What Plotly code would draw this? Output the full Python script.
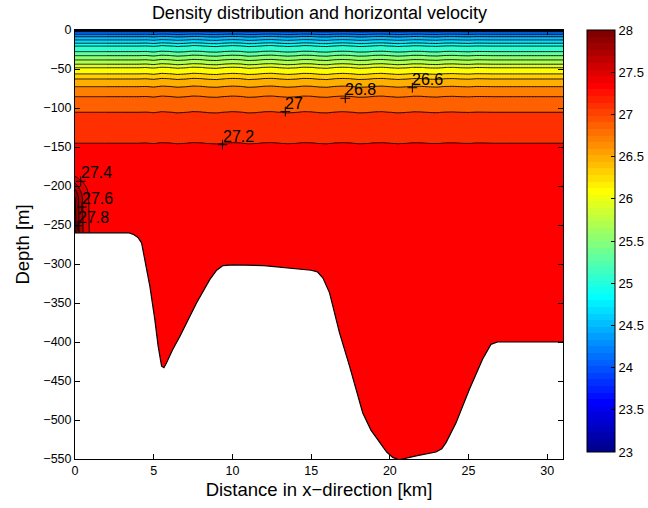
import numpy as np
import plotly.graph_objects as go

# ---------------- data ----------------
# background density profile (depth in m, sigma in kg/m^3)
prof_depth = [0.0, 1.0, 2.2, 5.5, 8.6, 12.8, 17.0, 20.5, 27.8, 32.9, 38.4, 43.9, 48.3,
              56.3, 62.7, 72.6, 85.4, 105.4, 145.0, 200.0, 560.0]
prof_rho = [23.15, 23.6, 24.0, 24.2, 24.4, 24.6, 24.8, 25.0, 25.2, 25.4, 25.6, 25.8, 26.0,
            26.2, 26.4, 26.6, 26.8, 27.0, 27.2, 27.3, 27.36]

# small wobble of the isopycnals (upward displacement, m) along x (km)
wave_x = [0, 4.0, 4.5, 5.0, 5.5, 6.0, 6.5, 7.0, 7.5, 8.0, 8.5, 9.0, 9.5, 10.0, 10.5, 11.0,
          11.5, 12.0, 12.5, 13.0, 13.5, 14.0, 14.5, 15.0, 15.5, 16.0, 16.5, 17.0, 17.5,
          18.0, 18.5, 19.0, 19.5, 20.0, 20.5, 21.0, 21.5, 22.0, 22.5, 23.0, 23.5, 24.0,
          24.5, 25.0, 25.5, 26.0, 26.5, 27.0, 31.0]
wave_dz = [0, 0, 0.3, -0.6, 0.8, 0.3, -0.8, -0.2, 0.9, 0.5, -0.6, -0.9, 0.2, 0.8, 0.4, -0.9,
           -0.5, 0.6, 0.9, 0.0, -0.8, -0.3, 0.8, 0.6, -0.5, -0.9, 0.3, 0.8, 0.3,
           -0.8, -0.6, 0.5, 0.8, 0.0, -0.8, -0.3, 0.6, 0.5, -0.3, -0.6, 0.3, 0.5,
           0.0, -0.3, 0.3, 0.2, 0.0, 0.0, 0.0]

# dense water pooled against the left wall
wall_x = [0.0, 0.3, 0.6, 0.9, 1.3, 31.0]
wall_fx = [1.0, 0.6, 0.3, 0.12, 0.0, 0.0]
wall_depth = [0.0, 180.0, 192.0, 205.0, 215.0, 260.0, 560.0]
wall_fz = [0.0, 0.0, 0.25, 0.7, 0.95, 1.0, 1.0]
wall_amp = 0.75

# bottom topography (km, m)
bathy_x = [0, 3.4, 3.7, 4.0, 4.23, 4.44, 4.76, 5.07, 5.28, 5.5, 5.65, 5.81, 6.2, 6.66, 7.2,
           7.72, 8.56, 9.0, 9.4, 10.04, 12.0, 14.27, 15.0, 15.4, 15.75, 16.17, 16.8, 17.44,
           18.28, 18.8, 19.34, 19.8, 20.18, 20.6, 21.67, 22.93, 23.3, 23.57, 24.2, 25.05,
           25.89, 26.2, 26.42, 26.84, 31.0]
bathy_z = [-260, -260, -262, -266, -273, -294, -329, -371, -405, -431, -433, -427, -410,
           -393, -372, -350, -320, -308, -302, -301, -302, -306, -308, -310, -318, -337,
           -388, -431, -491, -513, -529, -541, -548, -551, -546, -541, -537, -529, -504,
           -461, -422, -410, -403, -400, -400]

# inline contour labels
label_x = [21.43, 17.17, 13.36, 9.37, 0.36, 0.44, 0.19]
label_z = [-74.0, -87.5, -104.6, -147.0, -194.0, -227.0, -251.0]
label_text = ["26.6", "26.8", "27", "27.2", "27.4", "27.6", "27.8"]

cbar_ticks = [23, 23.5, 24, 24.5, 25, 25.5, 26, 26.5, 27, 27.5, 28]
x_ticks = [0, 5, 10, 15, 20, 25, 30]
y_ticks = [0, -50, -100, -150, -200, -250, -300, -350, -400, -450, -500, -550]

LEV_START, LEV_END, LEV_STEP = 23.0, 28.0, 0.2
CMIN, CMAX = 23.0, 28.0


# ---------------- MATLAB jet colormap ----------------
def jet(m=64):
    n = int(np.ceil(m / 4))
    u = np.concatenate([np.arange(1, n + 1) / n, np.ones(n - 1), np.arange(n, 0, -1) / n])
    g = int(np.ceil(n / 2)) - (1 if m % 4 == 1 else 0) + np.arange(1, len(u) + 1)
    r = g + n
    b = g - n
    J = np.zeros((m, 3))
    k = r <= m
    J[r[k] - 1, 0] = u[k]
    k = g <= m
    J[g[k] - 1, 1] = u[k]
    k = b > 0
    J[b[k] - 1, 2] = u[k]
    return J


J64 = jet(64)


def rgb(c):
    return "rgb(%d,%d,%d)" % tuple(int(round(v * 255)) for v in c)


def jet_idx(v):
    f = (v - CMIN) / (CMAX - CMIN)
    return int(min(63, max(0, np.floor(f * 64 + 1e-9))))


# discrete colour bar scale
cb_scale = []
for i in range(64):
    cb_scale.append([i / 64, rgb(J64[i])])
    cb_scale.append([(i + 1) / 64, rgb(J64[i])])

# contour fill scale: plotly colours band above level L with value L + step/2,
# on a domain [start - step/2, end + step/2]
levels = np.round(np.arange(LEV_START, LEV_END + 1e-9, LEV_STEP), 6)
dom0 = LEV_START - LEV_STEP / 2
dom1 = levels[-1] + LEV_STEP / 2
fill_scale = []
for L in levels:
    v = L + LEV_STEP / 2
    f = (v - dom0) / (dom1 - dom0)
    fill_scale.append([float(f), rgb(J64[jet_idx(min(v, CMAX - 1e-6))])])
fill_scale = [[0.0, fill_scale[0][1]]] + fill_scale
fill_scale[-1][0] = 1.0

# ---------------- build density field ----------------
xg = np.unique(np.round(np.concatenate([np.arange(0, 2.0, 0.04), np.arange(2.0, 31.001, 0.1)]), 4))
dg = np.unique(np.round(np.concatenate([np.arange(0, 20, 0.2), np.arange(20, 150, 0.8),
                                         np.arange(150, 552, 2.5)]), 4))
X, D = np.meshgrid(xg, dg)
dz = np.interp(X, wave_x, wave_dz) * D / (D + 10.0)
rho = np.interp(D + dz, prof_depth, prof_rho)
rho = rho + wall_amp * np.interp(X, wall_x, wall_fx) * np.interp(D, wall_depth, wall_fz)
rho = np.round(rho, 4)

FONT = "Liberation Sans, Arial, Helvetica, sans-serif"

fig = go.Figure()

fig.add_trace(go.Contour(
    x=xg, y=-dg, z=rho,
    contours=dict(start=LEV_START, end=LEV_END, size=LEV_STEP, coloring="fill", showlabels=False),
    colorscale=fill_scale, showscale=False,
    line=dict(color="black", width=0.9),
    hoverinfo="skip",
))

# bathymetry mask
fig.add_trace(go.Scatter(
    x=bathy_x + [bathy_x[-1] + 1, bathy_x[-1] + 1, bathy_x[0] - 1, bathy_x[0] - 1],
    y=bathy_z + [bathy_z[-1], -700, -700, bathy_z[0]],
    fill="toself", fillcolor="white", mode="lines",
    line=dict(color="white", width=0), hoverinfo="skip", showlegend=False,
))
fig.add_trace(go.Scatter(
    x=bathy_x, y=bathy_z, mode="lines", line=dict(color="black", width=1.2),
    hoverinfo="skip", showlegend=False,
))

# '+' marks of the contour labels
fig.add_trace(go.Scatter(
    x=label_x, y=label_z, mode="markers",
    marker=dict(symbol="cross-thin", size=7, line=dict(color="black", width=1)),
    hoverinfo="skip", showlegend=False,
))
for lx, lz, lt in zip(label_x, label_z, label_text):
    fig.add_annotation(x=lx, y=lz, text=lt, showarrow=False, xanchor="left", yanchor="bottom",
                       xshift=-2, yshift=-2, font=dict(size=16, color="black", family=FONT))

# colour bar carrier
fig.add_trace(go.Scatter(
    x=[-100], y=[0], mode="markers",
    marker=dict(color=[CMIN], colorscale=cb_scale, cmin=CMIN, cmax=CMAX, showscale=True, size=1,
                colorbar=dict(x=1.049, xanchor="left", y=1, yanchor="top", lenmode="pixels",
                              len=422, thicknessmode="pixels", thickness=28,
                              xpad=0, ypad=0,
                              outlinecolor="black", outlinewidth=1,
                              tickvals=cbar_ticks, ticktext=[("%g" % t) for t in cbar_ticks],
                              ticks="inside", ticklen=4, tickcolor="black",
                              tickfont=dict(size=13, color="black", family=FONT))),
    hoverinfo="skip", showlegend=False,
))

fig.update_layout(
    width=648, height=508,
    margin=dict(l=75, r=85, t=30, b=49, autoexpand=False),
    paper_bgcolor="white", plot_bgcolor="white",
    font=dict(family=FONT, color="black"),
    title=dict(text="Density distribution and horizontal velocity", x=0.493, xanchor="center",
               y=1 - 13 / 508, yanchor="middle", yref="container",
               font=dict(size=18, color="black", family=FONT)),
    showlegend=False,
)
fig.update_xaxes(range=[0, 31], tickvals=x_ticks, ticks="inside", ticklen=5, tickcolor="black",
                 showline=True, linecolor="black", linewidth=1, mirror="ticks",
                 showgrid=False, zeroline=False,
                 tickfont=dict(size=12.5, color="black", family=FONT),
                 title=dict(text="Distance in x\u2212direction [km]", standoff=6,
                            font=dict(size=18.5, color="black", family=FONT)))
fig.update_yaxes(range=[-550, 0], tickvals=y_ticks, ticks="inside", ticklen=5, tickcolor="black",
                 showline=True, linecolor="black", linewidth=1, mirror="ticks",
                 showgrid=False, zeroline=False,
                 tickfont=dict(size=12.5, color="black", family=FONT),
                 title=dict(text="Depth [m]", standoff=8,
                            font=dict(size=18.5, color="black", family=FONT)))

fig.write_html("out.html")
